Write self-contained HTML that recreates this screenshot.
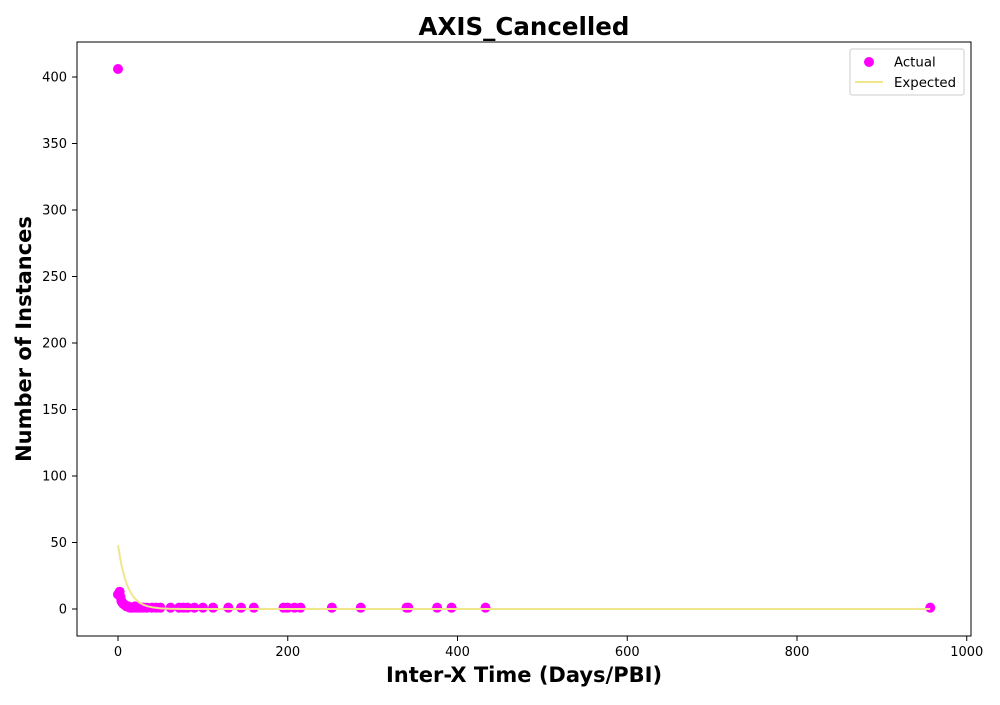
<!DOCTYPE html>
<html><head><meta charset="utf-8"><style>
body{margin:0;background:#fff;font-family:"Liberation Sans",sans-serif}
svg text{font-family:"DejaVu Sans","Liberation Sans",sans-serif}
</style></head><body>
<svg id="chart" width="1000" height="700">
<rect x="77" y="42" width="894" height="594" fill="#fff" stroke="#000"/>
<text x="524" y="35" text-anchor="middle" font-size="24.5" font-weight="bold">AXIS_Cancelled</text>
<text x="524" y="682" text-anchor="middle" font-size="21" font-weight="bold">Inter-X Time (Days/PBI)</text>
<text transform="translate(31,339) rotate(-90)" text-anchor="middle" font-size="21" font-weight="bold">Number of Instances</text>
<g id="ticks"></g><g id="marks"></g>
<g>
<rect x="850" y="49" width="114" height="46" fill="#fff" stroke="#ccc" rx="2"/>
<circle cx="869" cy="62" r="5" fill="#ff00ff"/>
<text x="894" y="66.5" font-size="13.3">Actual</text>
<line x1="855" y1="82" x2="883" y2="82" stroke="#f0e68c" stroke-width="2"/>
<text x="894" y="87" font-size="13.3">Expected</text>
</g>
</svg>
<script>
const actualX=[0,0,2,3,4,5,6,8,10,12,14,16,18,20,22,25,28,30,34,40,45,50,62,72,77,82,90,100,112,130,145,160,195,200,208,215,252,286,340,342,376,393,433,957];
const actualY=[406,11,13,9,6,5,4,3,2,2,1,1,1,2,1,1,1,1,1,1,1,1,1,1,1,1,1,1,1,1,1,1,1,1,1,1,1,1,1,1,1,1,1,1];
const expX=[0,2.5,5,7.5,10,12.5,15,17.5,20,25,30,35,40,50,60,80,100,957];
const expY=[48,38.3,30.5,24.3,19.3,15.4,12.3,9.8,7.8,4.9,3.1,2,1.3,0.5,0.2,0.03,0,0];
const xTicks=[0,200,400,600,800,1000];
const yTicks=[0,50,100,150,200,250,300,350,400];
const X=v=>118+v*0.84875, Y=v=>609-v*1.33;
const NS="http://www.w3.org/2000/svg";
const tk=document.getElementById('ticks'), mk=document.getElementById('marks');
function el(t,a,p){const e=document.createElementNS(NS,t);for(const k in a)e.setAttribute(k,a[k]);p.appendChild(e);return e;}
xTicks.forEach(v=>{const x=X(v);
const l=el('line',{x1:x,x2:x,y1:636,y2:641,stroke:'#000'},tk);


const t=el('text',{x:x,y:656,'text-anchor':'middle','font-size':13},tk);t.textContent=v;

});
yTicks.forEach(v=>{const y=Y(v);
const l=el('line',{x1:72,x2:77,y1:y,y2:y,stroke:'#000'},tk);


const t=el('text',{x:67,y:y+4.5,'text-anchor':'end','font-size':13},tk);t.textContent=v;

});
actualX.forEach((v,i)=>{const c=el('circle',{cx:X(v),cy:Y(actualY[i]),r:5,fill:'#ff00ff'},mk);

});
const p=el('polyline',{points:expX.map((v,i)=>X(v)+','+Y(expY[i])).join(' '),fill:'none',stroke:'#f0e68c','stroke-width':2},mk);


</script>
</body></html>
